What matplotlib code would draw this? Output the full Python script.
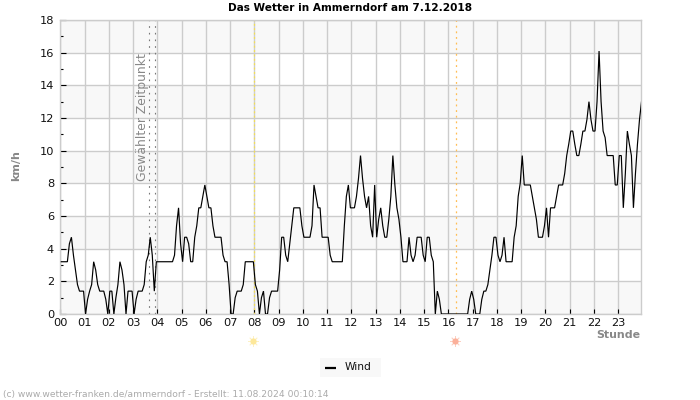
import matplotlib
matplotlib.use("Agg")
import matplotlib.pyplot as plt
from matplotlib.patches import Rectangle
from matplotlib.lines import Line2D

title = "Das Wetter in Ammerndorf am 7.12.2018"
footer = "(c) www.wetter-franken.de/ammerndorf - Erstellt: 11.08.2024 00:10:14"
hour_labels = ["%02d" % h for h in range(24)]
y_major = list(range(0, 19, 2))
y_minor = list(range(1, 18, 2))
selected_hours = [3.67, 3.92]
sunrise_hour = 8.0
sunset_hour = 16.32

wind = [
    3.2, 3.2, 3.2, 3.2, 4.3, 4.7, 3.6, 2.7, 1.8, 1.4, 1.4, 1.4,
    0, 0.9, 1.4, 1.8, 3.2, 2.7, 1.8, 1.4, 1.4, 1.4, 0.9, 0,
    1.4, 1.4, 0, 1.0, 1.8, 3.2, 2.7, 1.8, 0, 1.4, 1.4, 1.4,
    0, 0.9, 1.4, 1.4, 1.4, 1.8, 3.2, 3.6, 4.7, 3.6, 1.4, 3.2,
    3.2, 3.2, 3.2, 3.2, 3.2, 3.2, 3.2, 3.2, 3.6, 5.4, 6.5, 4.3,
    3.2, 4.7, 4.7, 4.3, 3.2, 3.2, 4.7, 5.4, 6.5, 6.5, 7.2, 7.9,
    7.2, 6.5, 6.5, 5.4, 4.7, 4.7, 4.7, 4.7, 3.6, 3.2, 3.2, 1.8,
    0, 0, 1.0, 1.4, 1.4, 1.4, 1.8, 3.2, 3.2, 3.2, 3.2, 3.2,
    1.8, 1.4, 0, 1.0, 1.4, 0, 0, 1.0, 1.4, 1.4, 1.4, 1.4,
    2.7, 4.7, 4.7, 3.6, 3.2, 4.3, 5.4, 6.5, 6.5, 6.5, 6.5, 5.4,
    4.7, 4.7, 4.7, 4.7, 5.4, 7.9, 7.2, 6.5, 6.5, 4.7, 4.7, 4.7,
    4.7, 3.6, 3.2, 3.2, 3.2, 3.2, 3.2, 3.2, 5.4, 7.2, 7.9,
    6.5, 6.5, 6.5, 7.2, 8.3, 9.7, 8.3, 7.2, 6.5, 7.2, 5.4, 4.7,
    7.9, 4.7, 5.8, 6.5, 5.4, 4.7, 4.7, 5.8, 7.2, 9.7, 7.9, 6.5,
    5.8, 4.7, 3.2, 3.2, 3.2, 4.7, 3.6, 3.2, 3.6, 4.7, 4.7, 4.7,
    3.6, 3.2, 4.7, 4.7, 3.6, 3.2, 0, 1.4, 0.9, 0, 0, 0,
    0, 0, 0, 0, 0, 0, 0, 0, 0, 0, 0,
    0.9, 1.4, 0.9, 0, 0, 0, 0.9, 1.4, 1.4, 1.8, 2.7, 3.6,
    4.7, 4.7, 3.6, 3.2, 3.6, 4.7, 3.2, 3.2, 3.2, 3.2, 4.7, 5.4,
    7.2, 8.0, 9.7, 7.9, 7.9, 7.9, 7.9, 7.2, 6.5, 5.8, 4.7, 4.7,
    4.7, 5.4, 6.5, 4.7, 6.5, 6.5, 6.5, 7.2, 7.9, 7.9, 7.9, 8.6,
    9.7, 10.4, 11.2, 11.2, 10.4, 9.7, 9.7, 10.4, 11.2, 11.2, 11.9, 13.0,
    11.9, 11.2, 11.2, 13.0, 16.1, 13.0, 11.2, 10.8, 9.7, 9.7, 9.7, 9.7,
    7.9, 7.9, 9.7, 9.7, 6.5, 8.6, 11.2, 10.4, 9.7, 6.5, 8.6, 10.4, 11.9, 13.0,
]
hours = [i * 5 / 60 for i in range(len(wind))]

W, H = 700, 400
fig = plt.figure(figsize=(7, 4), dpi=100)
fig.patch.set_facecolor("white")
L, R, T, B = 60.3, 640.5, 20.0, 314.0
ax = fig.add_axes([L / W, 1 - B / H, (R - L) / W, (B - T) / H])
ax.set_xlim(0, hours[-1])
ax.set_ylim(0, 18)

for y in y_major[:-1:2]:
    ax.axhspan(y, y + 2, facecolor="#f8f8f8", edgecolor="none", zorder=0)
ax.grid(True, color="#cccccc", lw=1, zorder=1)
ax.set_axisbelow(True)
for s in ax.spines.values():
    s.set_color("#cccccc")
    s.set_linewidth(1)

ax.set_xticks(hours[::12])
ax.set_xticklabels(hour_labels, fontsize=8.2, color="#111111")
ax.set_yticks(y_major)
ax.set_yticklabels([str(v) for v in y_major], fontsize=8.2, color="#111111")
ax.set_yticks(y_minor, minor=True)
ax.tick_params(axis="x", which="major", direction="in", length=3.6, width=0.8, color="black", pad=3)
ax.tick_params(axis="y", which="major", direction="in", length=4.3, width=0.8, color="black", pad=4.5)
ax.tick_params(axis="y", which="minor", direction="in", length=2.2, width=0.8, color="black")
ax.grid(False, which="minor")

for h in selected_hours:
    ax.axvline(h, color="#777777", lw=0.8, ls=(0, (1.5, 4.5)), zorder=2)
ax.axvline(sunrise_hour, color="#f5e050", lw=0.9, ls=(0, (1.5, 2)), zorder=2)
ax.axvline(sunset_hour, color="#ffbe55", lw=0.9, ls=(0, (1.5, 3)), zorder=2)
ax.text(3.39, 8.15, "Gewählter Zeitpunkt", rotation=90, color="#888888",
        fontsize=8.9, ha="center", va="bottom", zorder=3)

ax.plot([h + 2.5 / 60 for h in hours], wind, color="black", lw=0.85,
        solid_joinstyle="miter", zorder=4)

tr = ax.get_xaxis_transform()
for h, c, rays in [(sunrise_hour - 0.04, "#fde89a", "#fdf1c4"), (sunset_hour - 0.04, "#fbb09a", "#fcd0c2")]:
    ax.scatter([h], [-0.092], s=50, marker=(8, 2, 0), color=rays, lw=0.6,
               transform=tr, clip_on=False, zorder=5)
    ax.scatter([h], [-0.092], s=20, marker="o", color=c, lw=0,
               transform=tr, clip_on=False, zorder=6)

fig.text(350 / W, 1 - 8 / H, title, fontsize=7.6, fontweight="bold", ha="center", va="center", color="#000000")
fig.text(16 / W, 1 - 166 / H, "km/h", fontsize=8, fontweight="bold", color="#888888",
         rotation=90, ha="center", va="center")
fig.text(640 / W, 1 - 334.5 / H, "Stunde", fontsize=7.9, fontweight="bold", color="#888888", ha="right", va="center")
fig.text(3 / W, 1 - 394 / H, footer, fontsize=6.6, color="#aaaaaa", ha="left", va="center")

fig.add_artist(Rectangle((320 / W, 1 - 377 / H), 61 / W, 19 / H, transform=fig.transFigure,
                         facecolor="#f8f8f8", edgecolor="none"))
fig.add_artist(Line2D([325 / W, 336 / W], [1 - 367.5 / H] * 2, transform=fig.transFigure,
                      color="black", lw=1.6, solid_capstyle="butt"))
fig.text(345 / W, 1 - 366.5 / H, "Wind", fontsize=7.7, color="#111111", ha="left", va="center")

fig.savefig("out.png", dpi=100)
